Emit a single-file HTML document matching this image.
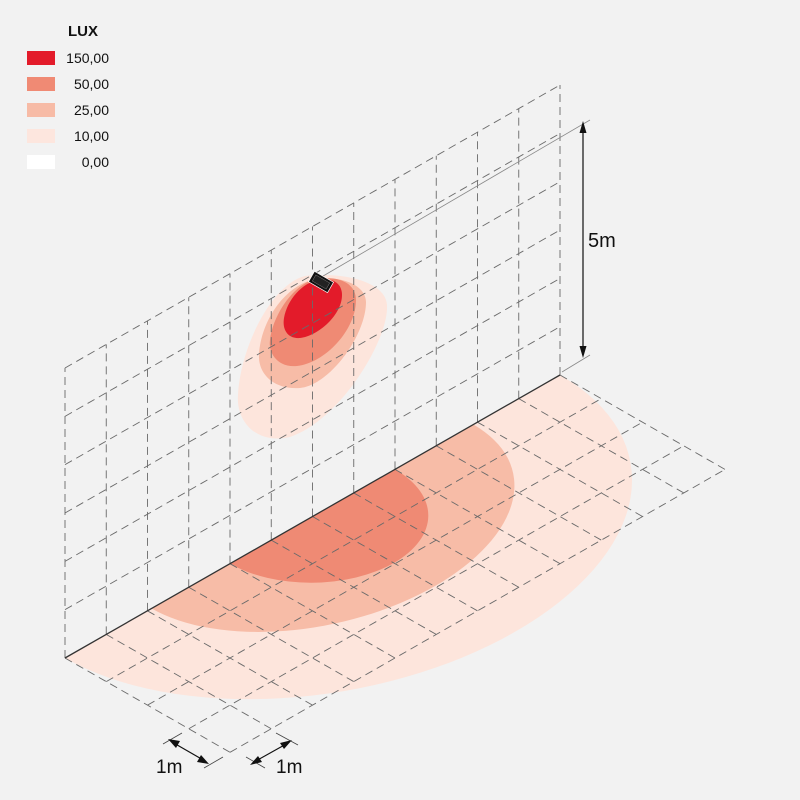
<!DOCTYPE html>
<html><head><meta charset="utf-8"><style>
html,body{margin:0;padding:0;background:#f2f2f2}
svg{display:block}
text{font-family:"Liberation Sans",sans-serif;fill:#111}
</style></head><body>
<svg width="800" height="800" viewBox="0 0 800 800" xmlns="http://www.w3.org/2000/svg">
<rect width="800" height="800" fill="#f2f2f2"/>
<text x="68" y="36" font-size="15" font-weight="bold">LUX</text>
<rect x="27" y="51" width="28" height="14" fill="#e31b2a"/>
<rect x="27" y="77" width="28" height="14" fill="#f08a74"/>
<rect x="27" y="103" width="28" height="14" fill="#f7bba6"/>
<rect x="27" y="129" width="28" height="14" fill="#fde6de"/>
<rect x="27" y="155" width="28" height="14" fill="#ffffff"/>
<g font-size="14" text-anchor="end">
<text x="109" y="63">150,00</text>
<text x="109" y="89">50,00</text>
<text x="109" y="115">25,00</text>
<text x="109" y="141">10,00</text>
<text x="109" y="167">0,00</text>
</g>
<g transform="matrix(41.25,-23.58,41.25,23.58,312.5,516.52)">
<path d="M-6 0 A6 4.9 0 0 0 6 0 Z" fill="#fde5dc"/>
<path d="M-3.9 0 A3.9 2.96 0 0 0 3.9 0 Z" fill="#f7bca7"/>
<path d="M-2 0 A2 1.97 0 0 0 2 0 Z" fill="#ef8a74"/>
</g>
<path d="M305,276 C340,272 385,280 387,305 C389,340 340,420 290,437 C255,445 236,420 238,395 C240,350 270,285 305,276 Z" fill="#fde5dc"/>
<path d="M312,280 C340,274 366,285 366,302 C366,335 330,385 300,388 C272,390 258,372 259,355 C261,320 285,287 312,280 Z" fill="#f7bca7"/>
<path d="M315,279 C342,275 356,285 356,300 C356,330 325,363 297,366 C277,368 268,352 270,340 C273,315 293,285 315,279 Z" fill="#ef8a74"/>
<path d="M318,280 C335,277 342,285 342,295 C342,315 318,336 300,338 C288,339 282,330 284,318 C287,300 302,283 318,280 Z" fill="#e31b2a"/>
<g stroke="#6a6a6a" stroke-width="0.9" stroke-dasharray="8,5" fill="none">
<line x1="65" y1="658" x2="65" y2="368"/>
<line x1="106.25" y1="634.42" x2="106.25" y2="344.42"/>
<line x1="147.5" y1="610.84" x2="147.5" y2="320.84"/>
<line x1="188.75" y1="587.26" x2="188.75" y2="297.26"/>
<line x1="230" y1="563.68" x2="230" y2="273.68"/>
<line x1="271.25" y1="540.1" x2="271.25" y2="250.1"/>
<line x1="312.5" y1="516.52" x2="312.5" y2="226.52"/>
<line x1="353.75" y1="492.94" x2="353.75" y2="202.94"/>
<line x1="395" y1="469.36" x2="395" y2="179.36"/>
<line x1="436.25" y1="445.78" x2="436.25" y2="155.78"/>
<line x1="477.5" y1="422.2" x2="477.5" y2="132.2"/>
<line x1="518.75" y1="398.62" x2="518.75" y2="108.62"/>
<line x1="560" y1="375" x2="560" y2="85"/>
<line x1="65" y1="609.67" x2="560" y2="326.7"/>
<line x1="65" y1="561.34" x2="560" y2="278.4"/>
<line x1="65" y1="513" x2="560" y2="230"/>
<line x1="65" y1="464.67" x2="560" y2="181.7"/>
<line x1="65" y1="416.34" x2="560" y2="133.4"/>
<line x1="65" y1="368" x2="560" y2="85"/>
<line x1="106.25" y1="681.58" x2="601.25" y2="398.6"/>
<line x1="147.5" y1="705.16" x2="642.5" y2="422.2"/>
<line x1="188.75" y1="728.74" x2="683.75" y2="445.8"/>
<line x1="230" y1="752.32" x2="725" y2="469.4"/>
<line x1="65" y1="658" x2="230" y2="752.32"/>
<line x1="106.25" y1="634.42" x2="271.25" y2="728.74"/>
<line x1="147.5" y1="610.84" x2="312.5" y2="705.16"/>
<line x1="188.75" y1="587.26" x2="353.75" y2="681.58"/>
<line x1="230" y1="563.68" x2="395" y2="658"/>
<line x1="271.25" y1="540.1" x2="436.25" y2="634.42"/>
<line x1="312.5" y1="516.52" x2="477.5" y2="610.84"/>
<line x1="353.75" y1="492.94" x2="518.75" y2="587.26"/>
<line x1="395" y1="469.36" x2="560" y2="563.68"/>
<line x1="436.25" y1="445.78" x2="601.25" y2="540.1"/>
<line x1="477.5" y1="422.2" x2="642.5" y2="516.52"/>
<line x1="518.75" y1="398.62" x2="683.75" y2="492.94"/>
<line x1="560" y1="375" x2="725" y2="469.4"/>
</g>
<line x1="65" y1="658" x2="560" y2="375" stroke="#333" stroke-width="1.3"/>
<line x1="318" y1="279" x2="590" y2="120" stroke="#888" stroke-width="0.8"/>
<line x1="562" y1="372" x2="590" y2="355" stroke="#888" stroke-width="0.8"/>
<line x1="583" y1="128" x2="583" y2="352" stroke="#111" stroke-width="1.2"/>
<path d="M583 121 L579.5 133 L586.5 133 Z" fill="#111"/>
<path d="M583 358 L579.5 346 L586.5 346 Z" fill="#111"/>
<text x="588" y="247" font-size="20">5m</text>
<g transform="translate(321 282) rotate(30)">
<rect x="-11" y="-6" width="22" height="12" fill="#111" stroke="#fff" stroke-width="0.7"/>
<rect x="-8" y="-3.5" width="16" height="7" fill="#222" stroke="#777" stroke-width="0.5"/>
</g>
<g stroke="#444" stroke-width="0.8">
<line x1="163" y1="744" x2="182" y2="733"/>
<line x1="204" y1="768" x2="223" y2="757"/>
<line x1="246" y1="757" x2="265" y2="768"/>
<line x1="276" y1="733" x2="298" y2="745"/>
</g>
<g stroke="#111" stroke-width="1.2">
<line x1="172" y1="742" x2="205" y2="761"/>
<line x1="254" y1="762" x2="288" y2="743"/>
</g>
<path d="M168 739 L180 741 L176 748 Z" fill="#111"/>
<path d="M209 764 L197 762 L201 755 Z" fill="#111"/>
<path d="M250 765 L258 756 L262 762 Z" fill="#111"/>
<path d="M292 740 L284 749 L280 743 Z" fill="#111"/>
<text x="156" y="773" font-size="19">1m</text>
<text x="276" y="773" font-size="19">1m</text>
</svg>
</body></html>
